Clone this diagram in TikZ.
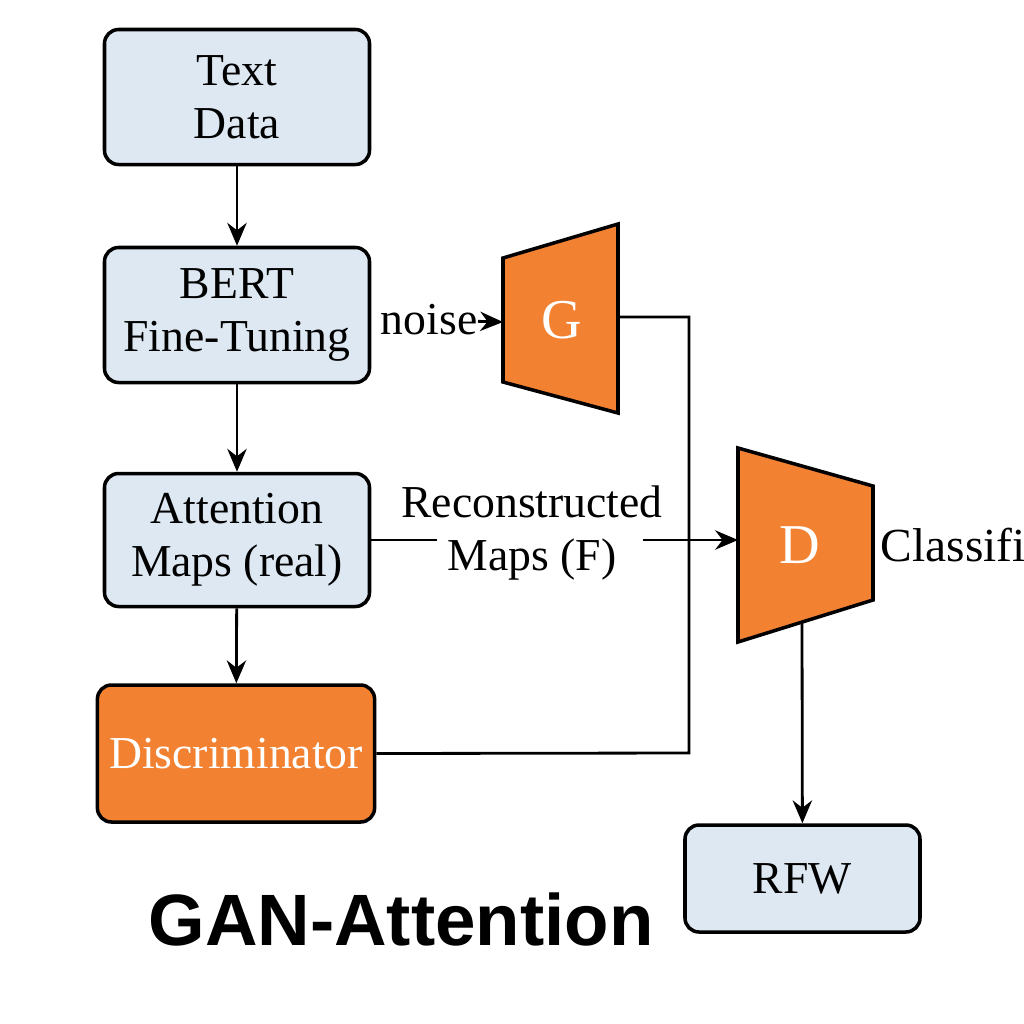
\documentclass[tikz,border=0pt]{standalone}
\usepackage{fontspec}
\setmainfont{Liberation Serif}
\newfontfamily\titlefont{Liberation Sans}
\usetikzlibrary{calc, arrows.meta}
\definecolor{ganorange}{RGB}{242,129,49}
\definecolor{ganblue}{RGB}{221,232,243}

\begin{document}
\begin{tikzpicture}[font=\fontsize{13}{15}\selectfont,
  box/.style={draw, line width=1pt, rounded corners=4pt, fill=ganblue, align=center, minimum width=2.65cm, minimum height=1.35cm},
  obox/.style={box, fill=ganorange, text=white},
  trap/.style={draw, line width=1pt, fill=ganorange},
  arr/.style={-{Stealth[length=6.5pt,width=5.5pt]}, line width=0.8pt},
  wire/.style={line width=0.8pt}]
\useasboundingbox (0,0) rectangle (10.24,-10.24);
\clip (0,0) rectangle (10.24,-10.24);

% left column
\node[box] (text) at (2.37,-0.97) {Text\\Data};
\node[box] (bert) at (2.37,-3.15) {BERT\\Fine-Tuning};
\node[box, minimum height=1.33cm] (attn) at (2.37,-5.40) {Attention\\Maps (real)};
\node[obox, minimum width=2.76cm, minimum height=1.37cm] (disc) at (2.36,-7.535) {Discriminator};

\draw[arr] (text) -- (bert);
\draw[arr] (bert) -- (attn);
\draw[arr] (attn) -- (disc);

% generator
\coordinate (Gw) at (5.03,-3.22);
\coordinate (Ge) at (6.18,-3.17);
\draw[trap] (5.03,-2.58) -- (6.18,-2.24) -- (6.18,-4.13) -- (5.03,-3.82) -- cycle;
\node[text=white, font=\fontsize{16}{18}\selectfont] (G) at (5.62,-3.2) {G};
\node[anchor=east, inner sep=0pt] (noise) at (4.78,-3.2) {noise};
\draw[arr] (noise) -- (Gw);

% discriminator D
\coordinate (Dw) at (7.38,-5.40);
\coordinate (Ds) at (8.02,-6.22);
\draw[trap] (7.38,-4.48) -- (8.73,-4.86) -- (8.73,-6.00) -- (7.38,-6.42) -- cycle;
\node[text=white, font=\fontsize{16}{18}\selectfont] (D) at (8.0,-5.45) {D};
\node[anchor=west, inner sep=0pt, font=\fontsize{13.5}{16}\selectfont] (cls) at (8.80,-5.45) {Classification};

% reconstructed maps
\node[align=center, inner sep=0pt] (recon) at (5.32,-5.33) {Reconstructed\\Maps (F)};
\draw[wire] (attn.east) -- ($(recon.west |- attn.east)+(0.36,0)$);
\draw[arr] ($(recon.east |- attn.east)+(-0.2,0)$) -- (Dw);

% feedback
\coordinate (bus) at (6.89,-7.53);
\draw[wire] (disc.east) -- (bus) |- (Ge);

% output
\node[box, minimum width=2.35cm, minimum height=1.07cm] (rfw) at (8.025,-8.785) {RFW};
\draw[arr] (Ds) -- (rfw);

\node[font=\titlefont\bfseries\fontsize{20.7}{24}\selectfont] (title) at (4.01,-9.19) {GAN-Attention};

\end{tikzpicture}
\end{document}
